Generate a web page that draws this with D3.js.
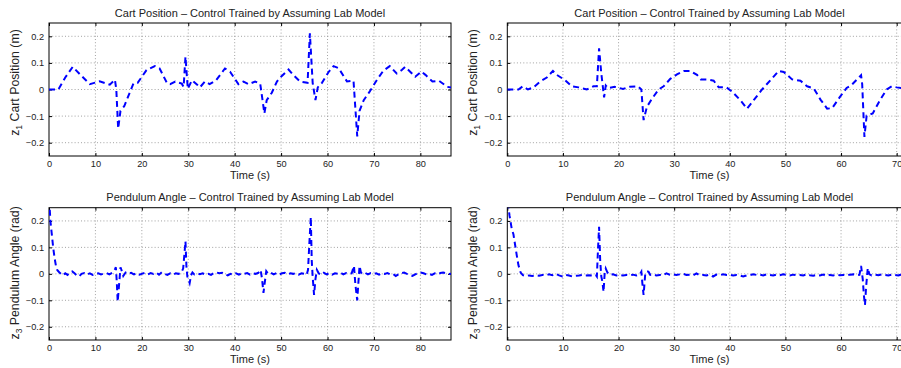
<!DOCTYPE html>
<html>
<head>
<meta charset="utf-8">
<script src="https://cdn.jsdelivr.net/npm/d3@7"></script>
<style>
  body { margin: 0; background: #fff; }
  svg { display: block; font-family: "Liberation Sans", Arial, Helvetica, sans-serif; }
</style>
</head>
<body>
<div id="chart"></div>
<script>
// tick values shared by all panels
var yTicks = [-0.2, -0.1, 0, 0.1, 0.2];
var xTicksLeft = [0, 10, 20, 30, 40, 50, 60, 70, 80];
var xTicksRight = [0, 10, 20, 30, 40, 50, 60, 70];

// cart position, left run  [time (s), z1 (m)]
var cartLeft = [[0,0],[2.0,0],[3.5,0.045],[5.1,0.085],[6.5,0.06],[8.8,0.02],[10.9,0.031],[13.1,0.018],[14.2,0.037],
  [14.5,0.0],[14.9,-0.147],[15.4,-0.08],[16.2,-0.063],[18.2,0.023],[19.1,0.025],[21.0,0.073],[22.8,0.088],[23.8,0.08],
  [25.4,0.025],[26.1,0.02],[27.2,0.03],[28.6,0.022],[29.0,0.01],[29.4,0.123],[29.9,0.003],[30.8,0.035],[31.8,0.02],
  [32.5,0.008],[33.6,0.03],[34.6,0.02],[36.0,0.035],[37.9,0.079],[39.0,0.067],[40.8,0.02],[41.9,0.03],[43.0,0.02],
  [44.4,0.03],[45.5,0.022],[46.4,-0.09],[46.9,-0.04],[48.0,-0.012],[49.1,0.03],[50.1,0.05],[51.6,0.075],[52.6,0.055],
  [54.1,0.03],[55.7,0.025],[56.2,0.211],[56.8,0.025],[57.4,-0.04],[57.9,0.008],[58.8,0.025],[60.2,0.065],[61.3,0.088],
  [62.4,0.08],[64.2,0.03],[65.6,0.033],[66.4,-0.176],[66.9,-0.08],[67.8,-0.04],[69.0,-0.01],[70.6,0.035],[72.0,0.07],
  [73.4,0.088],[74.9,0.06],[76.0,0.073],[76.7,0.085],[77.8,0.067],[78.9,0.048],[80.2,0.067],[81.1,0.055],[82.6,0.03],
  [84.0,0.033],[85.8,0.01],[86.6,0.007]];

// cart position, right run
var cartRight = [[0,0],[2.0,0],[2.8,0.012],[3.7,0],[4.7,0.008],[5.9,0.03],[7.1,0.045],[8.2,0.07],[8.9,0.055],[10.4,0.035],
  [11.6,0.012],[12.8,0.008],[14.3,0],[15.5,0.012],[16.1,0.012],[16.5,0.155],[16.9,0.06],[17.4,-0.03],[17.7,0.015],
  [18.1,0.005],[19.3,0.01],[20.8,0.002],[22.0,0.01],[23.5,0.012],[24.1,0],[24.5,-0.115],[25.1,-0.065],[26.0,-0.035],
  [27.2,0],[28.1,0.012],[29.3,0.04],[30.5,0.057],[31.7,0.07],[32.9,0.07],[34.1,0.055],[34.8,0.038],[35.9,0.038],
  [37.1,0.033],[38.0,0.008],[39.4,0.008],[40.4,-0.008],[41.9,-0.04],[43.1,-0.072],[44.3,-0.04],[45.8,0],[47.3,0.035],
  [48.8,0.07],[49.7,0.066],[51.2,0.038],[52.7,0.033],[53.9,0.012],[55.1,0.004],[56.3,-0.038],[57.5,-0.072],[58.4,-0.07],
  [59.8,-0.028],[61.0,0.006],[61.9,0.017],[63.6,0.054],[63.8,0.02],[64.2,-0.178],[64.6,-0.098],[65.7,-0.09],[67.0,-0.04],
  [68.2,0],[69.1,0.012],[70.0,0.008],[71.5,0.004]];

// pendulum angle, left run  [time (s), z3 (rad)]
var pendLeft = [[0.05,0.28],[0.3,0.2],[0.6,0.15],[0.9,0.1],[1.2,0.06],[1.5,0.03],[1.8,0.014],[2.2,0.006],[2.6,0.0],
  [3.0,-0.006],[3.5,0.002],[4.0,-0.004],[4.5,0.006],[5.0,0.009],[5.5,0.002],[6.0,-0.006],[6.5,-0.01],[7.0,0.0],
  [7.6,0.003],[8.2,-0.003],[8.8,0.002],[9.4,-0.004],[10.0,0.001],[10.6,0.002],[11.2,-0.002],[11.8,0.001],[12.4,0.003],
  [13.0,-0.002],[13.6,0.004],[14.1,0.012],[14.4,0.025],[14.6,-0.03],[14.8,-0.105],[15.1,-0.04],[15.4,0.025],[15.7,0.01],
  [16.0,-0.008],[16.5,0.005],[17.1,0.0],[17.7,0.004],[18.3,-0.002],[18.9,0.003],[19.5,-0.003],[20.1,0.001],[20.7,0.004],
  [21.3,-0.002],[21.9,0.003],[22.5,0.0],[23.1,0.005],[23.7,-0.003],[24.3,0.006],[24.9,0.0],[25.5,-0.004],[26.1,0.002],
  [26.7,-0.004],[27.3,0.002],[27.9,0.0],[28.5,0.004],[28.9,0.02],[29.2,0.08],[29.4,0.123],[29.6,0.03],[29.8,-0.01],
  [30.0,-0.02],[30.3,-0.035],[30.6,-0.005],[30.9,0.005],[31.3,-0.002],[31.9,0.002],[32.5,-0.001],[33.1,0.002],
  [33.7,-0.003],[34.3,0.0],[34.9,-0.004],[35.5,0.003],[36.1,0.005],[36.7,0.002],[37.3,0.004],[37.9,-0.002],[38.5,-0.006],
  [39.1,0.0],[39.7,-0.004],[40.3,0.002],[40.9,-0.003],[41.5,0.002],[42.1,0.0],[42.7,0.003],[43.3,-0.003],[43.9,0.002],
  [44.5,0.0],[45.1,0.004],[45.6,0.015],[45.9,-0.02],[46.2,-0.072],[46.5,-0.03],[46.8,0.01],[47.2,0.0],[47.8,0.004],
  [48.4,-0.002],[49.0,0.003],[49.6,-0.003],[50.2,0.002],[50.8,0.004],[51.4,-0.002],[52.0,0.002],[52.6,0.0],[53.2,0.003],
  [53.8,-0.003],[54.4,0.002],[55.0,0.0],[55.5,-0.004],[55.8,0.015],[56.1,0.12],[56.4,0.215],[56.6,0.05],[56.8,-0.01],
  [57.1,-0.08],[57.4,-0.02],[57.7,0.015],[58.1,0.002],[58.6,-0.004],[59.2,0.004],[59.8,-0.002],[60.4,0.003],[61.0,-0.003],
  [61.6,0.002],[62.2,0.0],[62.8,0.004],[63.4,-0.002],[64.0,0.003],[64.6,0.0],[65.2,0.002],[65.7,0.03],[66.0,-0.04],
  [66.4,-0.1],[66.7,-0.02],[66.9,0.03],[67.2,0.005],[67.5,0.0],[68.1,0.004],[68.7,-0.002],[69.3,0.003],[69.9,0.0],
  [70.5,0.002],[71.1,-0.003],[71.7,0.002],[72.3,0.0],[72.9,0.003],[73.5,-0.002],[74.1,0.0],[74.7,-0.008],[75.3,-0.002],
  [75.9,0.003],[76.5,0.005],[77.1,0.0],[77.7,-0.003],[78.3,-0.008],[78.9,-0.002],[79.5,0.003],[80.1,0.005],[80.7,0.002],
  [81.3,-0.002],[81.9,0.0],[82.5,-0.004],[83.1,0.002],[83.7,-0.002],[84.3,0.003],[84.9,0.005],[85.5,0.002],[86.1,-0.001],
  [86.6,0.0]];

// pendulum angle, right run
var pendRight = [[0.1,0.27],[0.4,0.22],[0.8,0.17],[1.1,0.15],[1.4,0.11],[1.7,0.07],[2.0,0.033],[2.4,0.005],[2.8,-0.005],
  [3.3,-0.008],[3.9,-0.006],[4.5,-0.008],[5.1,-0.005],[5.7,-0.007],[6.3,-0.004],[6.9,-0.006],[7.5,-0.002],[8.1,-0.005],
  [8.7,0.0],[9.3,-0.006],[9.9,-0.01],[10.5,-0.004],[11.1,-0.006],[11.7,-0.01],[12.3,-0.007],[12.9,-0.006],[13.5,-0.004],
  [14.1,-0.006],[14.7,-0.005],[15.3,-0.006],[15.9,-0.004],[16.1,-0.01],[16.3,0.09],[16.5,0.178],[16.7,0.05],[16.9,-0.01],
  [17.1,-0.03],[17.3,-0.068],[17.5,0.0],[17.7,0.02],[18.0,0.005],[18.4,-0.004],[19.0,-0.002],[19.6,-0.006],[20.2,-0.004],
  [20.8,-0.006],[21.4,-0.004],[22.0,-0.005],[22.6,-0.003],[23.2,-0.006],[23.8,-0.003],[24.1,0.008],[24.3,-0.04],
  [24.5,-0.08],[24.8,0.0],[25.1,0.01],[25.4,0.008],[25.7,-0.004],[26.2,-0.002],[26.8,-0.006],[27.4,-0.004],[28.0,-0.006],
  [28.6,0.002],[29.2,-0.003],[29.8,-0.002],[30.4,-0.004],[31.0,-0.002],[31.6,0.0],[32.2,-0.004],[32.8,-0.003],
  [33.4,-0.006],[34.0,0.002],[34.6,-0.006],[35.2,-0.004],[35.8,-0.006],[36.4,-0.003],[37.0,-0.01],[37.6,-0.003],
  [38.2,-0.005],[38.8,-0.002],[39.4,-0.004],[40.0,-0.003],[40.6,-0.006],[41.2,-0.004],[41.8,-0.006],[42.4,-0.01],
  [43.0,-0.006],[43.6,-0.005],[44.2,-0.002],[44.8,-0.004],[45.4,-0.003],[46.0,-0.006],[46.6,-0.002],[47.2,-0.004],
  [47.8,-0.006],[48.4,-0.003],[49.0,-0.005],[49.6,-0.002],[50.2,-0.004],[50.8,-0.006],[51.4,-0.003],[52.0,-0.005],
  [52.6,-0.004],[53.2,-0.006],[53.8,-0.002],[54.4,-0.005],[55.0,-0.007],[55.6,-0.004],[56.2,-0.006],[56.8,-0.003],
  [57.4,-0.008],[58.0,-0.004],[58.6,-0.006],[59.2,-0.003],[59.8,-0.005],[60.4,-0.004],[61.0,-0.006],[61.6,-0.003],
  [62.2,-0.002],[62.8,-0.005],[63.3,-0.004],[63.6,0.03],[63.9,-0.02],[64.1,-0.08],[64.3,-0.118],[64.5,-0.05],[64.8,0.022],
  [65.1,-0.002],[65.5,-0.006],[66.1,-0.003],[66.7,-0.005],[67.3,-0.002],[67.9,-0.004],[68.5,-0.006],[69.1,-0.003],
  [69.7,-0.004],[70.3,-0.006],[70.9,-0.002],[71.5,-0.004],[72.0,-0.003]];

var svgWidth = 901, svgHeight = 368;

var svg = d3.select("#chart")
  .append("svg")
  .attr("width", svgWidth)
  .attr("height", svgHeight);

var titleCart = "Cart Position \u2013 Control Trained by Assuming Lab Model";
var titlePend = "Pendulum Angle \u2013 Control Trained by Assuming Lab Model";

var panels = [
  { id: "p1", data: cartLeft, xMax: 86.6, xTicks: xTicksLeft, left: 49, right: 451, top: 23, bottom: 156,
    title: titleCart, sub: "1", ylab: " Cart Position (m)", labShift: -7 },
  { id: "p2", data: cartRight, xMax: 72.7, xTicks: xTicksRight, left: 507.3, right: 911.7, top: 23, bottom: 156,
    title: titleCart, sub: "1", ylab: " Cart Position (m)", labShift: -7 },
  { id: "p3", data: pendLeft, xMax: 86.6, xTicks: xTicksLeft, left: 49, right: 451, top: 207.7, bottom: 340,
    title: titlePend, sub: "3", ylab: " Pendulum Angle (rad)", labShift: -1 },
  { id: "p4", data: pendRight, xMax: 72.7, xTicks: xTicksRight, left: 507.3, right: 911.7, top: 207.7, bottom: 340,
    title: titlePend, sub: "3", ylab: " Pendulum Angle (rad)", labShift: -1 }
];

function fmt(v) {
  if (v === 0) return "0";
  return (v < 0 ? "\u2212" : "") + Math.abs(v).toFixed(1);
}

panels.forEach(function(p) {
  var x = d3.scaleLinear().domain([0, p.xMax]).range([p.left, p.right]);
  var y = d3.scaleLinear().domain([-0.25, 0.25]).range([p.bottom, p.top]);
  var w = p.right - p.left, h = p.bottom - p.top;

  var g = svg.append("g");

  // clip path for the curve
  svg.append("clipPath").attr("id", "clip-" + p.id)
    .append("rect").attr("x", p.left).attr("y", p.top).attr("width", w).attr("height", h);

  // dotted grid
  g.selectAll(".gx").data(p.xTicks.filter(function(d) { return d > 0; }))
    .enter().append("line")
    .attr("x1", d => x(d)).attr("x2", d => x(d))
    .attr("y1", p.top).attr("y2", p.bottom)
    .attr("stroke", "#8a8a8a").attr("stroke-width", 0.8)
    .attr("stroke-dasharray", "1,2.2");

  g.selectAll(".gy").data(yTicks)
    .enter().append("line")
    .attr("x1", p.left).attr("x2", p.right)
    .attr("y1", d => y(d)).attr("y2", d => y(d))
    .attr("stroke", "#8a8a8a").attr("stroke-width", 0.8)
    .attr("stroke-dasharray", "1,2.2");

  // axes on all four sides, ticks pointing inward
  var xAxisB = d3.axisBottom(x).tickValues(p.xTicks).tickSize(-3).tickPadding(6).tickFormat(d3.format("d"));
  var xAxisT = d3.axisTop(x).tickValues(p.xTicks).tickSize(-3).tickFormat("");
  var yAxisL = d3.axisLeft(y).tickValues(yTicks).tickSize(-3).tickPadding(5).tickFormat(fmt);
  var yAxisR = d3.axisRight(y).tickValues(yTicks).tickSize(-3).tickFormat("");

  var axB = g.append("g").attr("transform", `translate(0, ${p.bottom})`).call(xAxisB);
  var axT = g.append("g").attr("transform", `translate(0, ${p.top})`).call(xAxisT);
  var axL = g.append("g").attr("transform", `translate(${p.left}, 0)`).call(yAxisL);
  var axR = g.append("g").attr("transform", `translate(${p.right}, 0)`).call(yAxisR);

  [axB, axT, axL, axR].forEach(function(a) {
    a.select(".domain").remove();
    a.selectAll("line").attr("stroke", "#000").attr("stroke-width", 1);
    a.selectAll("text").attr("font-size", "9.2px").attr("fill", "#222")
      .attr("font-family", "'Liberation Sans', Arial, sans-serif");
  });
  axB.selectAll("text").attr("dy", "0.71em").attr("y", 4.5);

  // frame
  g.append("rect")
    .attr("x", p.left).attr("y", p.top)
    .attr("width", w).attr("height", h)
    .attr("fill", "none").attr("stroke", "#000").attr("stroke-width", 1);

  // the curve
  var line = d3.line().x(d => x(d[0])).y(d => y(d[1]));
  g.append("path")
    .datum(p.data)
    .attr("clip-path", "url(#clip-" + p.id + ")")
    .attr("d", line)
    .attr("fill", "none")
    .attr("stroke", "#0000ff")
    .attr("stroke-width", 2)
    .attr("stroke-dasharray", "6,4");

  // title
  g.append("text")
    .attr("x", (p.left + p.right) / 2)
    .attr("y", p.top - 6.5)
    .attr("text-anchor", "middle")
    .attr("font-size", "11px")
    .attr("fill", "#222")
    .text(p.title);

  // x label
  g.append("text")
    .attr("x", (p.left + p.right) / 2)
    .attr("y", p.bottom + 22.5)
    .attr("text-anchor", "middle")
    .attr("font-size", "11px")
    .attr("fill", "#222")
    .text("Time (s)");

  // y label with subscript
  var yl = g.append("text")
    .attr("transform", `translate(${p.left - 30}, ${(p.top + p.bottom) / 2 + p.labShift}) rotate(-90)`)
    .attr("text-anchor", "middle")
    .attr("font-size", "12.3px")
    .attr("fill", "#222");
  yl.append("tspan").text("z");
  yl.append("tspan").attr("font-size", "8.5px").attr("dy", 3).text(p.sub);
  yl.append("tspan").attr("dy", -3).text(p.ylab);
});
</script>
</body>
</html>
